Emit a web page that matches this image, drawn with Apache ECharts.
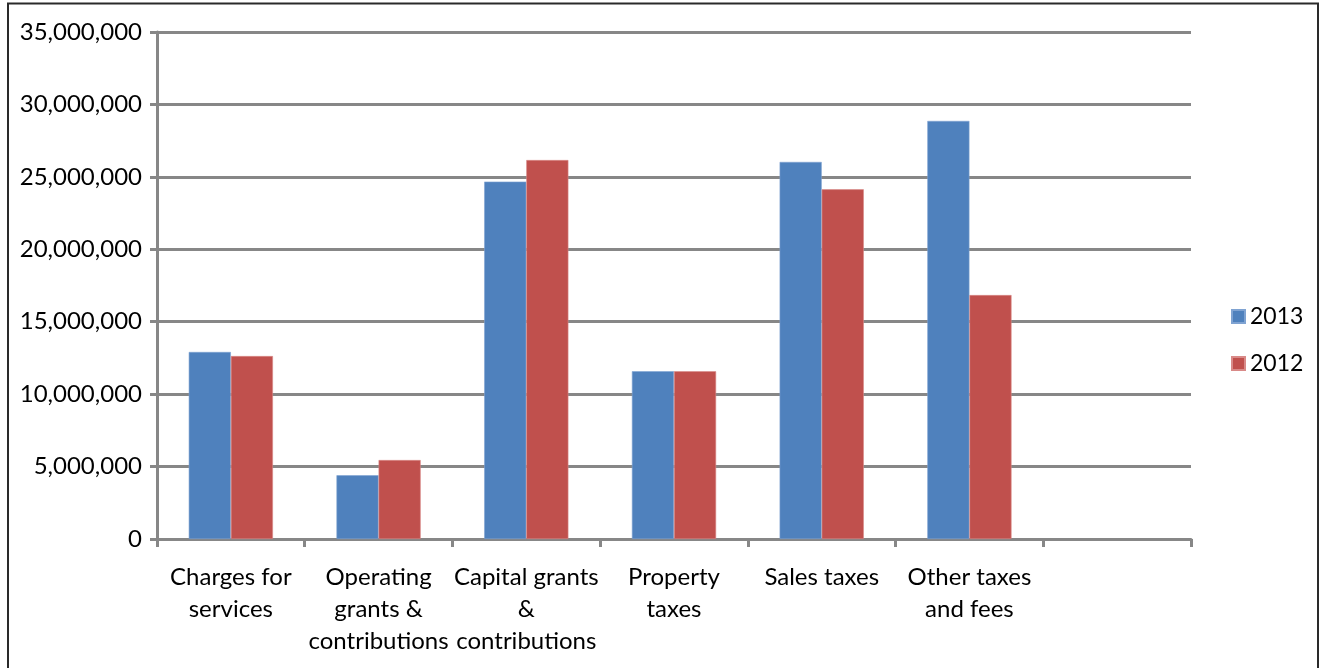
<!DOCTYPE html>
<html>
<head>
<meta charset="utf-8">
<script src="https://cdn.jsdelivr.net/npm/echarts@6/dist/echarts.min.js"></script>
<style>
  html, body { margin: 0; padding: 0; background: #fff; }
  #chart { width: 1322px; height: 668px; }
</style>
</head>
<body>
<div id="chart"></div>
<script>
// Revenue categories (the last slot is left empty on purpose)
const categories = [
  'Charges for\nservices',
  'Operating\ngrants &\ncontributions',
  'Capital grants\n&\ncontributions',
  'Property\ntaxes',
  'Sales taxes',
  'Other taxes\nand fees',
  ''
];
const seriesNames = ['2013', '2012'];
const values2013 = [12910000, 4400000, 24670000, 11580000, 26030000, 28860000, null];
const values2012 = [12630000, 5450000, 26160000, 11580000, 24140000, 16840000, null];

const FONT = 'Lato, "Open Sans", sans-serif';
const GRID = '#878787';

const chart = echarts.init(document.getElementById('chart'), null, { renderer: 'canvas' });

chart.setOption({
  animation: false,
  backgroundColor: '#ffffff',
  textStyle: { fontFamily: FONT },
  graphic: [{
    type: 'rect',
    shape: { x: 8, y: 3.5, width: 1310, height: 700 },
    style: { fill: 'none', stroke: '#2a2a2a', lineWidth: 2 },
    silent: true
  }],
  grid: { left: 157, right: 131, top: 32, bottom: 129 },
  legend: {
    orient: 'vertical',
    left: 1226,
    top: 298,
    itemWidth: 13,
    itemHeight: 13,
    itemGap: 20,
    icon: 'rect',
    data: seriesNames,
    textStyle: { fontFamily: FONT, fontSize: 23, color: '#000', lineHeight: 27 }
  },
  xAxis: {
    type: 'category',
    data: categories,
    axisLine: { lineStyle: { color: GRID, width: 3 } },
    axisTick: { show: true, length: 8, alignWithLabel: false, lineStyle: { color: GRID, width: 3 } },
    axisLabel: {
      interval: 0,
      margin: 22,
      color: '#000',
      fontFamily: FONT,
      fontSize: 24,
      lineHeight: 32,
      align: 'center'
    },
    splitLine: { show: false }
  },
  yAxis: {
    type: 'value',
    min: 0,
    max: 35000000,
    interval: 5000000,
    axisLine: { show: true, lineStyle: { color: GRID, width: 3 } },
    axisTick: { show: true, length: 7, lineStyle: { color: GRID, width: 3 } },
    axisLabel: {
      margin: 15,
      color: '#000',
      fontFamily: FONT,
      fontSize: 24,
      formatter: v => v.toLocaleString('en-US')
    },
    splitLine: { show: true, lineStyle: { color: GRID, width: 3 } }
  },
  series: [
    {
      name: seriesNames[0],
      type: 'bar',
      data: values2013,
      barGap: '0%',
      barCategoryGap: '43%',
      itemStyle: { color: '#4F81BD', borderColor: '#7FA3D2', borderWidth: 0.6 }
    },
    {
      name: seriesNames[1],
      type: 'bar',
      data: values2012,
      barGap: '0%',
      barCategoryGap: '43%',
      itemStyle: { color: '#C0504D', borderColor: '#D98A88', borderWidth: 0.6 }
    }
  ]
});
</script>
</body>
</html>
